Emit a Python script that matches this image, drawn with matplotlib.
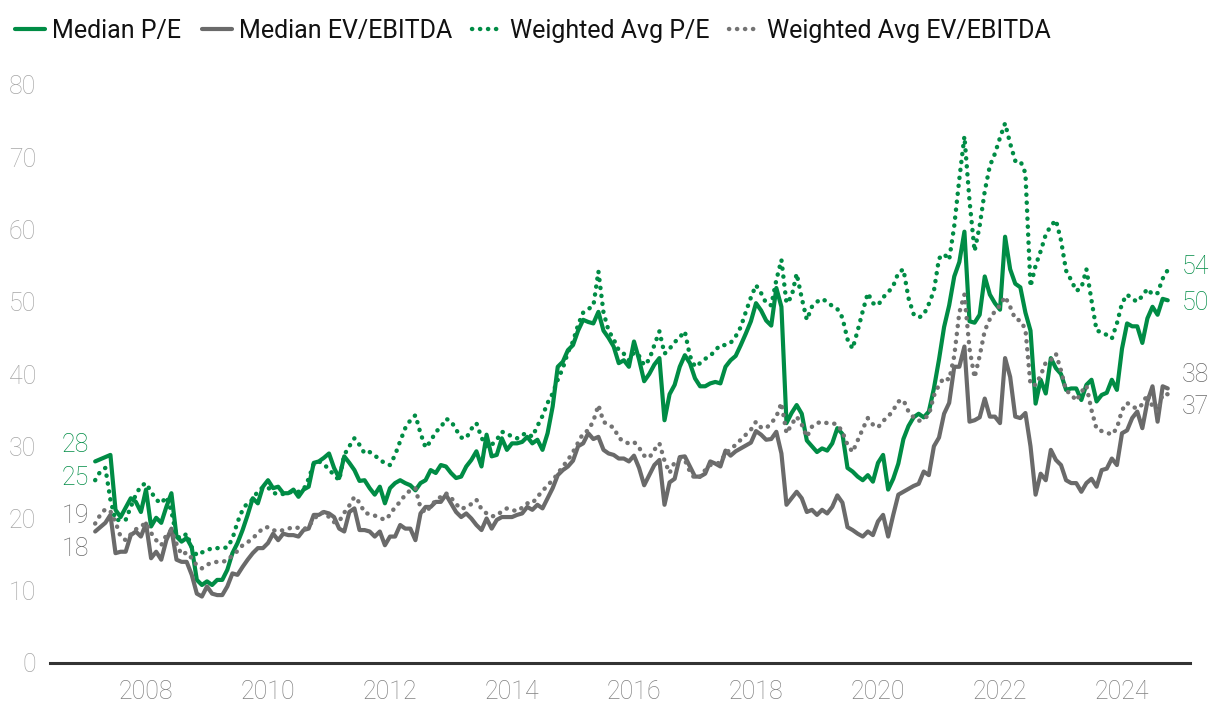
import matplotlib
matplotlib.use("Agg")
import matplotlib.pyplot as plt
import numpy as np

# Monthly data, March 2007 - October 2024
start_year, start_month = 2007, 3

median_pe = [
    27.9, 28.2, 28.5, 28.8, 21.2, 20.2, 21.5, 22.8, 22.3, 20.9,
    24.0, 18.9, 20.1, 19.4, 21.6, 23.5, 17.5, 16.8, 17.3, 16.0,
    11.5, 10.8, 11.3, 10.8, 11.5, 11.5, 12.9, 15.2, 16.6, 18.4,
    20.5, 22.8, 22.1, 24.4, 25.3, 24.2, 24.4, 23.5, 23.5, 24.0,
    23.0, 24.0, 24.4, 27.7, 27.9, 28.4, 29.0, 27.0, 25.6, 28.6,
    27.7, 26.7, 25.2,
    25.3, 24.2, 23.3, 24.4, 22.1, 24.2, 24.9, 25.3, 24.9, 24.6,
    23.9, 24.9, 25.3, 26.7, 26.3, 27.4, 27.2, 26.3, 25.6, 25.8,
    27.2, 28.1, 29.3, 27.2, 31.6, 28.6, 28.8, 31.1, 29.5, 30.4,
    30.4, 30.6, 31.3, 30.4, 30.9, 29.5, 31.8, 35.5, 41.0, 41.7,
    43.3, 44.0, 46.0, 47.5, 47.2, 47.0, 48.6, 46.0, 45.0, 43.8,
    41.5, 41.9, 41.0,
    44.5, 42.0, 39.0, 40.0, 41.3, 42.2, 33.6, 37.2, 38.5, 41.0,
    42.6, 41.5, 39.4, 38.3, 38.3, 38.7, 38.9, 38.7, 41.0, 41.9,
    42.5, 44.0, 45.6, 47.3, 49.8, 48.8, 47.4, 46.7, 51.9, 49.3,
    33.2, 34.6, 35.7, 34.5, 30.8, 30.0, 29.2, 29.7, 29.4, 30.4,
    32.5, 31.7, 27.0, 26.5, 25.8, 25.3, 26.0, 25.1, 27.7, 28.8,
    24.0, 25.5, 27.6, 31.0,
    32.8, 34.0, 34.5, 34.0, 34.8, 38.0, 42.0, 46.5, 49.5, 53.5,
    55.5, 59.7, 47.3, 47.1, 48.2, 53.5, 51.0, 49.8, 48.9, 59.0,
    54.5, 52.5, 52.0, 48.5, 46.0, 35.9, 39.2, 37.3, 42.2, 40.8,
    40.0, 37.8, 38.0, 38.0, 36.4, 38.5, 39.2, 36.2, 37.1, 37.4,
    39.2, 37.8, 43.5, 47.0, 46.6, 46.6, 44.3, 47.7, 49.3, 48.2,
    50.4, 50.2,
]

median_ev = [
    18.2, 18.8, 19.4, 20.5, 15.2, 15.4, 15.4, 17.7, 18.2, 17.5,
    19.3, 14.5, 15.4, 14.3, 17.0, 18.6, 14.3, 14.0, 14.0, 12.2,
    9.6, 9.2, 10.6, 9.6, 9.4, 9.4, 10.6, 12.4, 12.2, 13.3,
    14.3, 15.2, 15.9, 15.9, 16.6, 17.9, 17.0, 17.9, 17.7, 17.7,
    17.5, 18.4, 18.6, 20.5, 20.5, 20.9, 20.7, 20.2, 18.6, 18.2,
    20.9, 21.4, 18.4,
    18.4, 18.2, 17.5, 18.2, 16.3, 17.5, 17.5, 19.1, 18.6, 18.6,
    17.0, 20.7, 21.6, 21.6, 22.3, 22.3, 23.3, 22.1, 20.9, 20.2,
    20.7, 20.0, 19.1, 18.4, 20.0, 18.6, 19.8, 20.2, 20.2, 20.2,
    20.5, 20.7, 21.6, 21.2, 21.9, 21.4, 22.8, 24.2, 26.0, 26.7,
    27.2, 28.0, 30.0, 30.4, 31.8, 31.0, 31.3, 29.5, 29.0, 28.8,
    28.3, 28.3, 27.9,
    28.7, 27.0, 24.6, 26.0, 27.4, 28.1, 21.9, 25.0, 25.5, 28.5,
    28.6, 27.2, 25.8, 25.8, 26.2, 27.9, 27.6, 27.2, 29.4, 28.7,
    29.3, 29.7, 30.1, 30.5, 32.1, 31.6, 30.9, 31.0, 32.0, 29.0,
    21.9, 22.8, 23.7, 22.8, 20.9, 21.2, 20.5, 21.2, 20.7, 21.6,
    23.2, 22.2, 18.8, 18.4, 17.9, 17.5, 18.2, 17.7, 19.6, 20.5,
    17.5, 20.5, 23.3, 23.7,
    24.1, 24.5, 24.8, 26.5, 26.0, 30.0, 31.2, 34.5, 36.0, 41.0,
    41.0, 43.8, 33.4, 33.6, 34.0, 36.6, 34.1, 34.1, 33.2, 42.2,
    39.6, 34.1, 33.9, 34.6, 30.0, 23.3, 26.2, 25.3, 29.5, 28.1,
    27.4, 25.3, 24.9, 24.9, 23.7, 24.9, 25.5, 24.4, 26.7, 26.9,
    28.3, 27.4, 31.8, 32.2, 33.9, 34.8, 32.5, 36.2, 38.3, 33.4,
    38.3, 38.0,
]

weighted_pe = [
    25.3, 26.5, 27.0, 22.6, 19.8, 19.8, 19.8, 21.6, 23.3, 24.5,
    24.9, 23.7, 22.6, 22.1, 23.0, 21.0, 17.5, 17.3, 17.9, 16.0,
    14.9, 15.3, 15.6, 15.9, 15.9, 15.9, 16.0, 17.2, 19.5, 21.2,
    22.2, 22.6, 23.8, 24.3, 24.3, 23.6, 23.3, 23.4, 23.6, 23.7,
    23.7, 24.0, 25.5, 27.6, 27.9, 27.5, 26.8, 26.0, 25.3, 28.8,
    30.0, 31.1, 30.2,
    29.0, 29.2, 28.7, 28.2, 27.6, 27.4, 28.8, 30.7, 32.5, 33.6,
    34.3, 31.8, 29.8, 30.7, 32.0, 32.6, 33.8, 33.5, 32.3, 31.2,
    31.1, 32.4, 33.2, 31.2, 29.9, 30.2, 30.9, 32.0, 31.8, 31.3,
    31.1, 31.6, 31.8, 31.3, 32.8, 34.2, 36.0, 37.3, 39.2, 40.8,
    43.0, 44.5, 46.8, 48.5, 49.0, 49.4, 54.2, 48.5, 46.0, 44.8,
    43.3, 42.8, 41.9,
    43.0, 42.5, 41.2, 42.0, 44.0, 45.9, 42.8, 43.5, 44.4, 45.1,
    45.9, 42.5, 41.0, 41.5, 42.1, 42.5, 43.3, 44.0, 44.0, 44.3,
    45.2, 46.5, 48.6, 50.6, 52.3, 51.2, 49.8, 49.5, 53.0, 55.8,
    49.8, 50.7, 53.9, 50.5, 47.5, 49.3, 50.0, 50.4, 50.0, 49.4,
    49.0, 47.8, 44.8, 43.5, 46.0, 48.7, 51.2, 49.8, 49.5, 50.6,
    51.3, 52.2, 54.0, 54.5,
    50.5, 48.3, 47.8, 48.2, 49.7, 51.5, 56.0, 56.6, 55.8, 60.5,
    67.0, 72.9, 64.0, 57.0, 60.5, 65.3, 68.8, 70.5, 72.7, 74.7,
    71.9, 69.5, 69.5, 67.8, 52.1, 55.0, 57.0, 59.3, 60.5, 61.3,
    58.5, 54.3, 53.0, 51.5, 51.9, 54.5, 50.2, 46.0, 45.8, 45.4,
    44.9, 47.0, 49.8, 51.0, 50.4, 50.0, 50.8, 51.8, 51.0, 51.2,
    53.2, 54.4,
]

weighted_ev = [
    19.3, 20.5, 21.3, 21.0, 19.5, 17.5, 17.0, 17.8, 18.5, 18.9,
    19.4, 18.0, 17.0, 16.3, 17.7, 18.4, 16.5, 15.0, 15.3, 14.5,
    13.5, 13.1, 13.6, 13.9, 14.0, 14.0, 14.2, 14.9, 15.5, 16.3,
    16.7, 17.3, 17.9, 18.7, 18.8, 18.4, 18.2, 18.4, 18.6, 18.8,
    18.7, 18.5, 18.9, 19.9, 20.6, 20.9, 20.2, 19.5, 19.6, 20.8,
    21.8, 23.0, 22.2,
    20.8, 20.6, 20.4, 20.1, 19.8, 20.5, 21.6, 22.3, 23.3, 23.9,
    24.2, 21.5, 20.8, 21.7, 22.5, 23.0, 23.5, 22.9, 22.0, 21.3,
    21.6, 22.0, 22.6, 21.3, 20.7, 20.3, 20.4, 21.0, 21.4, 21.2,
    21.0, 21.5, 22.1, 22.1, 23.0, 23.8, 24.6, 25.3, 26.2, 27.2,
    28.1, 29.2, 30.5, 31.8, 32.2, 33.5, 35.7, 33.4, 32.9, 32.6,
    31.2, 30.6, 30.4,
    30.6, 29.8, 28.7, 28.4, 29.5, 30.4, 28.0, 26.3, 27.8, 28.2,
    28.1, 26.5, 25.5, 25.8, 26.7, 27.4, 27.5, 27.8, 29.0, 29.6,
    30.2, 30.9, 31.6, 32.3, 33.4, 32.6, 32.5, 33.2, 34.1, 36.0,
    31.8, 33.0, 34.1, 33.0, 31.3, 32.7, 33.2, 33.4, 33.2, 33.2,
    33.0, 32.0, 30.2, 29.2, 30.8, 32.4, 33.9, 33.0, 32.6, 33.5,
    34.1, 35.0, 36.2, 36.4,
    34.8, 34.0, 33.5, 33.8, 34.3, 37.0, 38.5, 39.5, 39.2, 42.5,
    48.5, 51.0, 43.5, 39.5, 42.5, 46.0, 47.6, 48.7, 49.5, 50.7,
    49.3, 47.6, 47.4, 46.2, 38.5, 38.5, 39.8, 41.6, 41.9, 42.8,
    40.5, 37.7, 37.2, 36.3, 37.5, 38.4, 35.0, 32.4, 32.1, 31.9,
    31.6, 32.5, 35.0, 36.0, 35.5, 35.2, 35.8, 37.2, 35.5, 34.8,
    37.2, 37.2,
]

series_names = ["Median P/E", "Median EV/EBITDA", "Weighted Avg P/E", "Weighted Avg EV/EBITDA"]
year_ticks = [2008, 2010, 2012, 2014, 2016, 2018, 2020, 2022, 2024]
y_ticks = [0, 10, 20, 30, 40, 50, 60, 70, 80]

GREEN = "#008C45"
GRAY = "#6A6A6A"
GRAY_DOT = "#737373"
TICK_GRAY = "#A6A6A6"
XTICK_GRAY = "#808080"

FONT = ["Roboto", "DejaVu Sans"]
plt.rcParams["font.family"] = FONT

def to_years(n):
    idx = np.arange(n)
    return start_year + (start_month - 1 + idx) / 12.0

fig = plt.figure(figsize=(12.2, 7.16), dpi=100)
ax = fig.add_axes([50 / 1220, 1 - 663 / 716, (1190 - 50) / 1220, (663 - 85) / 716])

DOT = (0, (0.05, 1.75))
styles = [
    (median_pe, GREEN, "-"),
    (median_ev, GRAY, "-"),
    (weighted_pe, GREEN, DOT),
    (weighted_ev, GRAY_DOT, DOT),
]
lines = []
for (vals, col, ls), name in zip(styles, series_names):
    x = to_years(len(vals))
    ln, = ax.plot(x, vals, color=col, linestyle=ls, lw=3.0 if ls == "-" else 3.2,
                  solid_capstyle="round", dash_capstyle="round", solid_joinstyle="round",
                  label=name)
    lines.append(ln)

ax.set_ylim(0, 80)
ax.set_xlim(2008 - 96 / 61, 2024 + 68 / 61)
ax.set_yticks(y_ticks)
ax.set_xticks(year_ticks)
ax.set_xticklabels([str(y) for y in year_ticks])
for s in ["left", "right", "top"]:
    ax.spines[s].set_visible(False)
ax.spines["bottom"].set_color("#333333")
ax.spines["bottom"].set_linewidth(2.2)
ax.tick_params(axis="y", length=0, pad=10, labelsize=18, labelcolor=TICK_GRAY)
ax.tick_params(axis="x", length=0, pad=12, labelsize=18, labelcolor=XTICK_GRAY)
for lab in ax.get_yticklabels() + ax.get_xticklabels():
    lab.set_fontweight("light")

# end labels
start_offsets = [(-6, 16), (-6, -17), (-6, 2), (-6, 8)]
end_offsets = [(14, -3), (14, 13), (14, 3), (14, -13)]
cols = [GREEN, GRAY, GREEN, GRAY]
for (vals, _, _), so, eo, c in zip(styles, start_offsets, end_offsets, cols):
    x = to_years(len(vals))
    ax.annotate(f"{round(vals[0])}", (x[0], vals[0]), xytext=so, textcoords="offset pixels",
                ha="right", va="center", fontsize=18, color=c, fontweight="light",
                annotation_clip=False)
    ax.annotate(f"{round(vals[-1])}", (x[-1], vals[-1]), xytext=eo, textcoords="offset pixels",
                ha="left", va="center", fontsize=18, color=c, fontweight="light",
                annotation_clip=False)

leg = fig.legend(handles=lines, loc="upper left", bbox_to_anchor=(0.0, 0.995), ncol=4,
                 frameon=False, prop={"size": 18, "weight": "normal"},
                 handlelength=1.2, handletextpad=0.3,
                 columnspacing=0.8, borderaxespad=0.2)
for t in leg.get_texts():
    t.set_color("#111111")

fig.savefig("out.png", dpi=100)
